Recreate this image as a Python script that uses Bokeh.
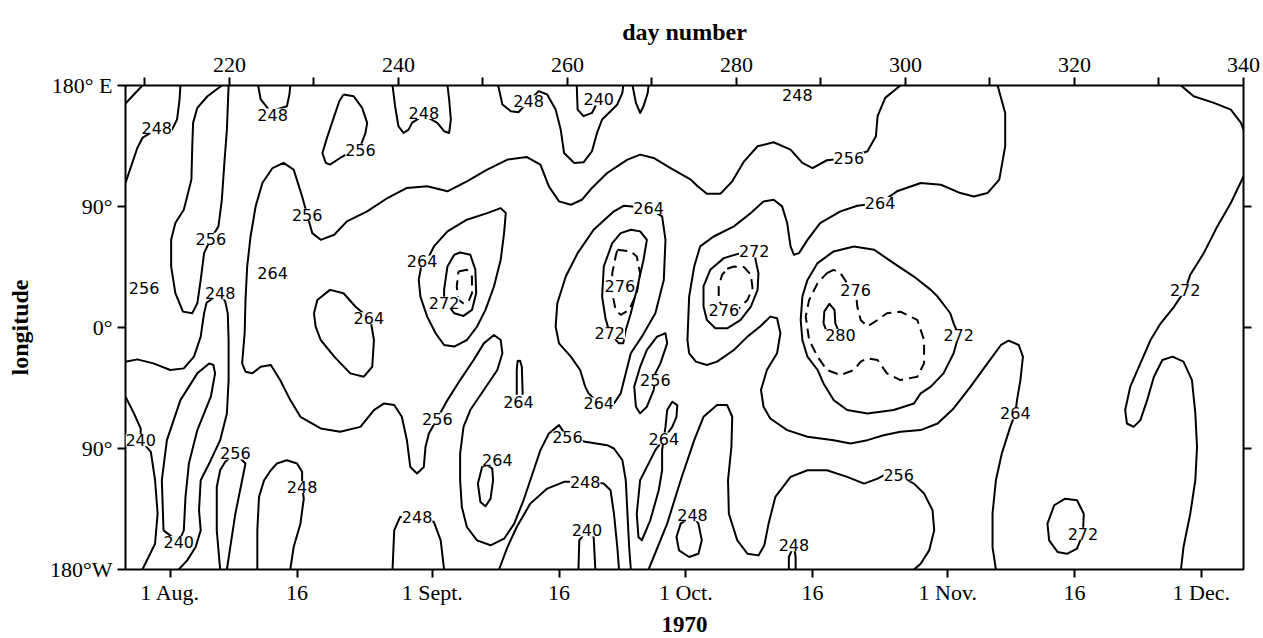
from bokeh.plotting import figure
from bokeh.models import Range1d, LinearAxis, FixedTicker, ColumnDataSource, LabelSet
from bokeh.core.properties import value
from bokeh.embed import file_html
from bokeh.resources import INLINE

# ---------------- axis data ----------------
top_ticks = [210, 220, 230, 240, 250, 260, 270, 280, 290, 300, 310, 320, 330, 340]
top_labels = ["", "220", "", "240", "", "260", "", "280", "", "300", "", "320", "", "340"]
date_ticks = [213, 228, 244, 259, 274, 289, 305, 320, 335]
date_labels = ["1 Aug.", "16", "1 Sept.", "16", "1 Oct.", "16", "1 Nov.", "16", "1 Dec."]
lon_ticks = [180, 90, 0, -90, -180]
lon_labels = ["180\u00b0 E", "90\u00b0", "0\u00b0", "90\u00b0", "180\u00b0W"]
right_ticks = [90, 0, -90]

# ---------------- contour lines (day number, longitude) ----------------
c248_corner = [(209.7, 180), (208.7, 173.3), (207.7, 166.6)]
c248_nw = [(207.7, 107.5), (208.5, 122.4), (209.1, 133.5), (209.7, 141.0), (211.4, 147.7), (213.2, 147.2),
           (213.8, 154.7), (214.1, 169.6), (214.2, 180)]
c256_u = [(219.1, 180), (217.4, 172.0), (216.2, 163.4), (215.7, 152.2), (215.6, 134.8), (215.5, 110.0),
          (214.6, 87.6), (213.6, 77.7), (213.1, 65.2), (213.1, 45.4), (213.6, 25.5), (214.5, 11.8),
          (215.6, 10.6), (216.2, 18.0), (216.6, 35.4), (217.0, 55.3), (217.8, 66.0), (218.7, 75.2),
          (219.1, 95.0), (219.4, 122.4), (219.7, 147.2), (219.9, 180)]
c248_top1 = [(223.4, 180), (223.7, 169.6), (224.5, 163.4), (225.1, 158.4), (225.6, 162.1), (226.8, 164.6),
             (227.1, 173.3), (227.2, 180)]
c256_main = [(299.4, 180), (297.6, 170.8), (296.7, 157.2), (296.5, 142.2), (295.5, 131.1), (293.3, 126.1),
             (290.7, 124.4), (289.0, 118.6), (287.8, 122.4), (286.4, 132.3), (284.4, 137.8), (282.5, 134.8),
             (280.9, 123.6), (279.5, 108.7), (278.1, 99.5), (276.5, 99.5), (275.4, 105.0), (274.6, 110.0),
             (272.2, 118.6), (270.2, 126.1), (268.6, 128.6), (267.1, 124.9), (264.7, 114.9), (262.9, 103.8),
             (261.7, 95.0), (260.4, 91.3), (259.0, 93.8), (257.8, 105.0), (256.8, 121.1), (255.2, 126.8),
             (252.9, 124.9), (250.5, 117.4), (248.1, 108.7), (245.8, 101.3), (243.4, 105.0), (241.0, 103.8),
             (238.7, 96.3), (236.3, 86.4), (233.9, 78.9), (232.4, 69.0), (230.8, 65.2), (229.8, 70.2),
             (229.2, 83.9), (228.6, 97.5), (227.6, 117.4), (226.4, 122.4), (225.1, 118.6), (223.9, 107.5),
             (223.1, 90.1), (222.5, 67.7), (222.1, 45.4), (221.9, 20.5), (221.8, -4.3), (221.5, -26.7),
             (221.9, -32.9), (222.7, -34.1), (223.7, -29.2), (224.9, -27.9), (226.0, -39.1), (227.2, -54.0),
             (228.4, -66.4), (230.8, -75.1), (233.1, -77.6), (235.5, -73.9), (237.1, -61.4), (238.3, -56.5),
             (239.5, -57.7), (240.4, -66.4), (241.0, -83.8), (241.4, -103.7), (242.2, -108.6), (243.0, -103.7),
             (243.2, -88.8), (243.6, -78.8), (244.6, -67.7), (245.8, -54.0), (247.3, -39.1), (248.9, -24.2),
             (250.1, -11.8), (251.3, -5.6), (252.1, -9.3), (252.3, -19.2), (251.7, -31.6), (250.1, -46.5),
             (248.5, -61.4), (247.7, -73.9), (247.3, -93.7), (247.3, -113.6), (247.5, -133.5), (248.1, -148.4),
             (249.3, -158.3), (250.9, -162.0), (252.5, -157.1), (253.7, -145.9), (254.8, -128.5), (256.0, -106.2),
             (256.8, -91.2), (257.8, -78.8), (259.0, -72.6), (260.0, -81.8), (262.1, -85.0), (264.7, -87.5),
             (265.5, -90.0), (266.5, -98.7), (266.9, -113.6), (267.1, -138.5), (267.3, -163.3), (267.5, -180)]
c264_a = [(230.0, 10.6), (230.4, 20.5), (231.9, 28.0), (233.5, 25.5), (234.9, 15.6), (236.5, 6.9), (236.7, 5.6),
          (237.1, -9.3), (236.9, -29.2), (235.9, -36.6), (234.3, -34.1), (232.4, -21.7), (230.8, -9.3),
          (230.2, 0.7), (230.0, 10.6)]
c256_b = [(233.5, 173.3), (234.7, 172.0), (235.7, 163.4), (236.3, 152.2), (236.1, 144.7), (235.5, 134.8),
          (233.1, 126.1), (231.9, 121.1), (231.4, 122.4), (231.0, 129.8), (231.6, 142.2), (232.4, 157.2),
          (233.0, 168.3), (233.5, 173.3)]
c248_top2 = [(239.3, 180), (239.6, 164.6), (240.0, 149.7), (240.6, 144.7), (241.2, 147.2), (241.6, 152.2),
             (243.0, 158.0), (244.6, 152.2), (245.4, 146.0), (246.0, 144.7), (246.2, 154.7), (246.0, 169.6),
             (245.8, 180)]
c248_top3 = [(251.8, 180), (252.3, 165.9), (253.3, 160.9), (254.2, 160.1), (255.4, 168.3), (256.6, 175.8),
             (257.6, 173.3), (258.6, 162.1), (259.2, 147.2), (259.6, 129.8), (260.8, 122.4), (261.9, 122.9),
             (262.9, 131.1), (263.5, 144.7), (264.1, 154.7), (265.1, 160.9), (265.9, 165.9), (266.5, 174.5),
             (266.6, 180)]
c240_top = [(261.1, 180), (261.2, 162.1), (261.9, 157.2), (262.9, 159.6), (263.7, 169.6)]
c_top_small = [(267.7, 180), (268.1, 167.1), (268.6, 159.6), (269.0, 164.6), (269.5, 174.5), (269.6, 180)]
c264_b = [(243.6, 52.8), (244.2, 60.3), (245.8, 71.5), (248.1, 80.2), (250.5, 85.1), (252.1, 88.8),
          (252.7, 85.1), (252.5, 70.2), (252.1, 50.4), (251.3, 30.5), (250.3, 13.1), (249.3, 0.7),
          (248.1, -9.3), (246.6, -14.2), (245.4, -13.0), (244.4, -4.3), (243.4, 8.1), (242.6, 23.0),
          (242.4, 35.4), (242.8, 49.1), (243.6, 52.8)]
c272_a = [(246.6, 54.1), (247.3, 55.8), (248.5, 54.1), (249.1, 43.0), (249.2, 25.5), (248.7, 13.1),
          (247.7, 8.6), (246.6, 10.6), (246.0, 15.6), (245.4, 18.5), (245.4, 28.0), (245.8, 45.4), (246.6, 54.1)]
c276_a = [(247.1, 41.6), (248.1, 42.9), (248.7, 37.9), (248.7, 25.5), (248.3, 19.3), (247.7, 18.0),
          (247.1, 20.5), (246.9, 30.5), (247.1, 41.6)]
c264_c = [(254.0, -50.0), (254.0, -31.6), (254.1, -24.9), (254.4, -24.7), (254.6, -29.2), (254.7, -50.0)]
c264_d = [(250.5, -102.4), (249.9, -103.7), (249.4, -116.1), (249.7, -129.8), (250.3, -133.0), (250.9, -127.3),
          (251.2, -113.6), (251.1, -104.9), (250.5, -102.4)]
c248_c = [(251.9, -180), (252.9, -163.3), (254.0, -148.4), (255.6, -131.0), (257.6, -119.8), (259.6, -114.8),
          (262.1, -114.8), (264.3, -116.1), (265.1, -121.1), (265.5, -138.5), (265.9, -163.3), (266.1, -180)]
c240_b = [(261.3, -180), (261.4, -158.3), (262.3, -150.9), (263.1, -155.8), (263.3, -180)]
c248_d = [(239.3, -180), (239.5, -150.9), (240.2, -140.9), (242.2, -140.9), (244.2, -144.7), (245.0, -158.3),
          (245.4, -180)]
c248_e = [(207.7, -25.4), (209.1, -23.7), (211.0, -26.7), (213.0, -31.6), (214.6, -30.4), (215.8, -21.7),
          (216.6, -6.8), (217.0, 10.6), (217.3, 18.5), (218.9, 25.5), (219.5, 19.3), (219.8, 10.6),
          (219.9, -9.3), (219.9, -39.1), (219.7, -63.9), (218.9, -83.8), (217.6, -101.2), (216.6, -113.6),
          (216.4, -135.9), (216.6, -150.9), (216.0, -163.3), (215.0, -173.2), (214.0, -180)]
c240_c = [(207.7, -51.5), (208.7, -63.9), (209.5, -75.1), (209.5, -83.8), (210.7, -92.5), (211.2, -113.6),
          (211.5, -138.5), (211.2, -160.8), (209.7, -180)]
c240_d = [(212.2, -150.9), (212.0, -113.6), (212.6, -83.8), (214.2, -54.0), (216.2, -34.1), (217.6, -26.7),
          (218.1, -27.9), (218.3, -34.1), (217.8, -51.5), (216.2, -76.3), (215.2, -101.2), (214.8, -126.0),
          (214.6, -150.9), (214.0, -159.6), (212.2, -150.9)]
c256_c = [(218.9, -180), (218.5, -150.9), (218.5, -118.6), (218.9, -106.2), (219.5, -99.9), (220.7, -93.7),
          (221.9, -101.2), (221.5, -113.6), (220.7, -138.5), (220.1, -163.3), (219.7, -180)]
c248_f = [(223.3, -180), (223.3, -150.9), (223.5, -126.0), (224.1, -113.6), (224.9, -106.2), (225.6, -101.2),
          (226.8, -98.7), (228.0, -101.2), (228.6, -107.4), (228.6, -118.6), (228.8, -127.3), (228.4, -145.9),
          (227.6, -163.3), (227.2, -180)]
c264_e = [(263.7, -56.5), (262.5, -49.0), (262.1, -44.0), (261.5, -31.6), (260.4, -21.7), (259.0, -11.8),
          (258.6, 0.7), (258.8, 18.0), (259.8, 37.9), (261.2, 55.3), (263.1, 72.7), (265.5, 86.4),
          (266.7, 90.6), (269.6, 88.8), (271.2, 82.6), (271.6, 65.2), (271.4, 35.4), (270.4, 10.6),
          (268.8, -6.8), (267.5, -19.2), (266.9, -34.1), (266.3, -49.0), (265.5, -56.5), (263.7, -56.5)]
c272_b = [(264.5, 6.9), (264.1, 23.0), (264.3, 45.4), (265.3, 62.8), (266.3, 70.2), (267.5, 72.7),
          (268.6, 71.5), (269.4, 65.2), (269.0, 50.4), (268.2, 28.0), (267.5, 10.6), (266.9, -1.8),
          (266.6, -11.8), (266.1, -11.8), (265.0, -4.3), (264.5, 6.9)]
c276_b = [(265.9, 57.8), (267.5, 56.6), (268.2, 52.8), (268.6, 40.4), (268.2, 25.5), (267.3, 13.1),
          (266.3, 9.4), (265.7, 13.1), (265.3, 25.5), (265.3, 40.4), (265.7, 52.8), (265.9, 57.8)]
c256_d = [(269.4, -16.7), (270.6, -6.8), (271.6, -4.3), (271.8, -11.8), (271.0, -26.7), (270.4, -34.1),
          (270.4, -39.1), (270.2, -46.5), (269.4, -58.9), (268.6, -63.9), (268.1, -58.9), (267.9, -44.0),
          (268.6, -29.2), (269.4, -16.7)]
c264_f = [(271.6, -73.9), (271.8, -61.4), (272.4, -55.2), (273.0, -57.7), (272.9, -66.4), (272.4, -73.9),
          (271.4, -82.6), (271.2, -91.2), (271.2, -106.2), (270.8, -121.1), (269.8, -143.4), (268.8, -158.3),
          (268.4, -155.8), (268.2, -138.5), (268.6, -113.6), (270.4, -91.2), (271.4, -82.6), (271.6, -73.9)]
c256_e = [(269.6, -180), (271.8, -145.9), (273.4, -113.6), (275.0, -83.8), (276.1, -66.4), (277.7, -57.7),
          (278.9, -57.7), (279.5, -66.4), (279.4, -88.8), (279.0, -113.6), (279.1, -138.5), (280.1, -158.3),
          (281.3, -168.3), (282.6, -169.5), (283.3, -162.0), (283.8, -145.9), (284.6, -126.0), (286.4, -111.1),
          (288.4, -106.2), (290.7, -106.2), (293.1, -111.1), (295.1, -116.1), (296.7, -112.4), (297.8, -108.6),
          (299.2, -109.9), (301.0, -116.1), (302.2, -123.5), (303.2, -135.9), (303.4, -150.9), (302.8, -165.8),
          (301.8, -175.7), (301.0, -180)]
c248_g = [(274.8, -139.7), (273.4, -145.9), (272.9, -155.8), (273.2, -165.8), (274.4, -170.7), (275.5, -168.3),
          (275.9, -158.3), (275.5, -145.9), (274.8, -139.7)]
c248_h = [(286.2, -180), (286.2, -170.7), (286.8, -162.0), (287.0, -170.7), (287.0, -180)]
c264_g = [(310.9, 180), (311.8, 159.6), (311.8, 134.8), (311.1, 110.0), (309.7, 100.0), (308.1, 97.5),
          (306.5, 100.0), (304.2, 106.2), (301.8, 107.5), (299.0, 101.3), (297.0, 92.6), (294.3, 90.6),
          (292.3, 86.4), (289.9, 77.7), (288.4, 65.2), (287.4, 55.3), (286.8, 54.1), (286.4, 60.3),
          (286.0, 77.7), (285.4, 90.1), (284.4, 95.0), (283.2, 93.8), (281.7, 85.1), (279.7, 75.2),
          (277.3, 67.7), (275.7, 60.3), (275.0, 45.4), (274.4, 23.0), (274.2, -9.3), (274.4, -19.2),
          (275.2, -25.4), (276.5, -27.9), (277.7, -25.4), (279.7, -16.7), (281.3, -6.8), (282.8, 0.7),
          (284.0, 8.1), (284.8, 6.9), (285.2, -4.3), (284.8, -19.2), (283.6, -31.6), (282.9, -46.5),
          (283.2, -58.9), (284.0, -67.7), (286.0, -76.3), (288.4, -81.3), (291.5, -83.8), (293.5, -86.3),
          (295.5, -83.8), (297.4, -80.1), (299.4, -77.6), (301.8, -76.3), (303.8, -71.4), (305.7, -60.2),
          (307.7, -44.0), (309.7, -26.7), (311.3, -13.0), (312.2, -9.8), (313.4, -13.0), (313.9, -21.7),
          (313.6, -39.1), (313.2, -54.0), (313.0, -63.9), (312.4, -73.9), (311.4, -93.7), (310.7, -113.6),
          (310.3, -138.5), (310.3, -163.3), (310.7, -180)]
c272_c = [(282.3, 49.1), (282.6, 40.4), (282.5, 28.0), (281.7, 15.6), (280.5, 5.6), (278.9, -0.6),
          (277.5, -0.6), (276.5, 5.6), (276.1, 15.6), (276.1, 30.5), (276.9, 42.9), (278.5, 51.6),
          (280.5, 55.3), (282.1, 56.6), (282.3, 49.1)]
c276_c = [(278.9, 43.7), (279.7, 45.4), (280.9, 44.9), (281.7, 39.2), (281.9, 29.2), (281.3, 20.5),
          (280.3, 14.3), (278.5, 13.1), (277.9, 20.5), (277.9, 30.5), (278.3, 39.2), (278.9, 43.7)]
c272_d = [(287.8, 23.0), (288.4, 35.4), (289.6, 47.9), (291.5, 56.6), (293.9, 60.3), (296.3, 57.8),
          (298.6, 47.9), (301.0, 37.9), (303.0, 28.0), (303.8, 23.0), (305.3, 10.6), (305.7, 3.1),
          (306.3, -5.6), (305.7, -19.2), (304.5, -34.1), (303.0, -44.0), (301.8, -49.0), (301.0, -56.5),
          (298.6, -61.4), (295.5, -63.9), (293.1, -61.4), (291.5, -54.0), (290.3, -41.6), (289.6, -31.6),
          (288.4, -21.7), (287.8, -9.3), (287.6, 5.6), (287.8, 23.0)]
c276_d = [(290.7, 40.4), (291.5, 42.9), (292.3, 40.4), (293.1, 33.0), (294.1, 28.0), (294.3, 15.6),
          (294.7, 5.6), (295.5, 0.7), (296.7, 5.6), (297.8, 10.6), (299.4, 11.8), (301.4, 5.6),
          (302.2, -9.3), (302.2, -26.7), (301.4, -36.6), (299.4, -39.1), (297.8, -34.1), (296.7, -24.2),
          (295.5, -22.9), (294.7, -25.4), (293.9, -31.6), (292.3, -35.4), (290.7, -31.6), (289.6, -21.7),
          (288.6, -9.3), (288.2, 8.1), (288.6, 20.5), (289.6, 33.0), (290.7, 40.4)]
c280 = [(290.3, 3.1), (290.4, 12.0), (291.0, 17.6), (291.6, 13.1), (291.7, 3.1), (292.3, -5.6),
        (290.8, -4.8), (290.3, 3.1)]
c272_e = [(340.0, 112.4), (338.5, 92.6), (336.9, 75.2), (335.3, 55.3), (333.7, 39.2), (333.1, 28.0),
          (331.8, 15.6), (330.2, 3.1), (329.0, -9.3), (327.8, -26.7), (326.6, -44.0), (326.0, -61.4),
          (326.2, -71.4), (327.0, -73.9), (327.8, -68.9), (328.6, -54.0), (329.4, -36.6), (330.4, -24.2),
          (331.6, -21.7), (332.9, -25.4), (333.9, -39.1), (334.3, -63.9), (334.5, -88.8), (334.3, -113.6),
          (333.7, -138.5), (332.9, -163.3), (332.6, -180)]
c272_f = [(321.1, -138.5), (320.3, -128.5), (318.9, -127.3), (317.6, -132.2), (316.8, -145.9), (317.0, -158.3),
          (318.0, -167.0), (319.1, -168.3), (320.3, -164.5), (321.0, -153.4), (321.1, -138.5)]
c_corner_ne = [(332.6, 180), (334.1, 172.0), (336.5, 167.1), (338.5, 162.1), (339.7, 152.2), (340.0, 147.2)]

solid_contours = [c248_corner, c248_nw, c256_u, c248_top1, c256_main, c264_a, c256_b, c248_top2, c248_top3,
                  c240_top, c_top_small, c264_b, c272_a, c264_c, c264_d, c248_c, c240_b, c248_d, c248_e,
                  c240_c, c240_d, c256_c, c248_f, c264_e, c272_b, c256_d, c264_f, c256_e, c248_g, c248_h,
                  c264_g, c272_c, c272_d, c280, c272_e, c272_f, c_corner_ne]
dashed_contours = [c276_a, c276_b, c276_c, c276_d]

# ---------------- contour value labels ----------------
label_day = [211.4, 217.8, 225.1, 209.9, 218.9, 209.5, 214.0, 220.7, 228.6, 229.2, 235.5, 236.5, 243.0,
             242.8, 245.4, 244.6, 254.2, 251.7, 242.2, 255.4, 263.7, 260.0, 262.1, 262.3, 263.7, 269.6,
             265.0, 266.2, 270.4, 271.4, 274.8, 286.8, 287.2, 293.3, 297.0, 313.0, 282.1, 278.5, 306.3,
             294.1, 292.3, 299.2, 333.1, 321.0, 225.1]
label_lon = [148.5, 66.0, 158.4, 29.2, 25.5, -83.8, -159.6, -93.7, -118.6, 83.9, 132.3, 6.9, 159.6,
             49.1, 18.5, -67.7, -55.2, -98.7, -140.9, 168.3, 169.6, -81.8, -114.8, -150.9, -56.5, 88.8,
             -4.3, 30.5, -39.1, -82.6, -139.7, -162.0, 173.3, 126.1, 92.6, -63.9, 56.6, 13.1, -5.6,
             28.0, -5.6, -109.9, 28.0, -153.4, 40.9]
label_text = ["248", "256", "248", "256", "248", "240", "240", "256", "248", "256", "256", "264", "248",
              "264", "272", "256", "264", "264", "248", "248", "240", "256", "248", "240", "264", "264",
              "272", "276", "256", "264", "248", "248", "248", "256", "264", "264", "272", "276", "272",
              "276", "280", "256", "272", "272", "264"]

# ---------------- figure ----------------
p = figure(width=1263, height=638, output_backend="svg", toolbar_location=None, title=None,
           x_range=Range1d(207.7, 340), y_range=Range1d(-180, 180),
           min_border_left=125, min_border_right=20, min_border_top=85, min_border_bottom=69)
p.xgrid.visible = False
p.ygrid.visible = False
p.background_fill_color = "white"
p.border_fill_color = "white"
p.outline_line_color = "black"
p.outline_line_width = 2


def style_axis(ax, ticks, labels, standoff):
    ax.ticker = FixedTicker(ticks=ticks, minor_ticks=[])
    ax.major_label_overrides = {t: s for t, s in zip(ticks, labels)}
    ax.axis_line_color = None
    ax.major_tick_line_color = "black"
    ax.major_tick_line_width = 2
    ax.major_tick_in = 0
    ax.major_tick_out = 8
    ax.minor_tick_line_color = None
    ax.major_label_text_font = "Liberation Serif"
    ax.major_label_text_font_size = "22px"
    ax.major_label_text_color = "black"
    ax.major_label_standoff = standoff
    ax.axis_label_text_font = "Liberation Serif"
    ax.axis_label_text_font_style = "bold"
    ax.axis_label_text_font_size = "24px"
    ax.axis_label_text_color = "black"


bottom_axis = p.xaxis[0]
style_axis(bottom_axis, date_ticks, date_labels, 2)
bottom_axis.axis_label = "1970"
bottom_axis.axis_label_text_font_size = "23px"
bottom_axis.axis_label_standoff = 9

left_axis = p.yaxis[0]
style_axis(left_axis, lon_ticks, lon_labels, 5)
left_axis.axis_label = "longitude"
left_axis.axis_label_standoff = 14

top_axis = LinearAxis()
style_axis(top_axis, top_ticks, top_labels, 6)
top_axis.axis_label = "day number"
top_axis.axis_label_standoff = 10
p.add_layout(top_axis, "above")

right_axis = LinearAxis()
style_axis(right_axis, right_ticks, ["", "", ""], 0)
right_axis.major_label_text_font_size = "0px"
p.add_layout(right_axis, "right")

solid_src = ColumnDataSource(dict(xs=[[d for d, l in c] for c in solid_contours],
                                  ys=[[l for d, l in c] for c in solid_contours]))
p.multi_line("xs", "ys", source=solid_src, line_color="black", line_width=2, line_join="round")
dashed_src = ColumnDataSource(dict(xs=[[d for d, l in c] for c in dashed_contours],
                                   ys=[[l for d, l in c] for c in dashed_contours]))
p.multi_line("xs", "ys", source=dashed_src, line_color="black", line_width=2, line_dash="10 6")

lab_src = ColumnDataSource(dict(x=label_day, y=label_lon, t=label_text))
p.add_layout(LabelSet(x="x", y="y", text="t", source=lab_src, text_align="center", text_baseline="middle",
                      text_font=value("DejaVu Sans"), text_font_size=value("16px"), text_color="black",
                      background_fill_color="white"))

open("out.html", "w").write(file_html(p, INLINE))
